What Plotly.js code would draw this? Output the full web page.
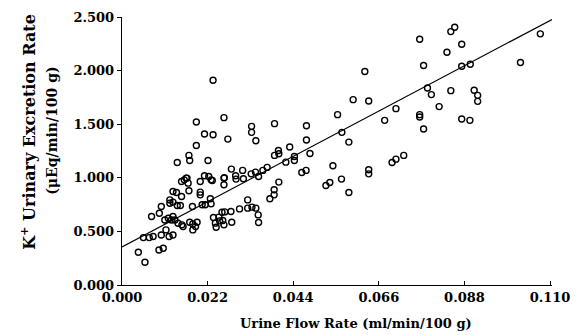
<!DOCTYPE html>
<html>
<head>
<meta charset="utf-8">
<script src="https://cdn.plot.ly/plotly-3.0.1.min.js"></script>
<style>html,body{margin:0;padding:0;background:#fff;}#chart{width:579px;height:335px;}</style>
</head>
<body>
<div id="chart"></div>
<script>
// Urine flow rate (ml/min/100 g)
const flowRate = [
0.0042,0.0059,0.0055,0.0070,0.0080,0.0076,0.0096,0.0101,0.0095,0.0106,
0.0101,0.0113,0.0121,0.0131,0.0110,0.0119,0.0123,0.0123,0.0131,0.0140,
0.0131,0.0142,0.0150,0.0142,0.0153,0.0160,0.0165,0.0170,0.0172,0.0153,
0.0127,0.0136,0.0131,0.0144,0.0154,0.0157,0.0174,0.0182,0.0182,0.0193,
0.0189,0.0181,0.0172,0.0174,0.0191,0.0191,0.0212,0.0234,0.0221,0.0234,
0.0262,0.0272,0.0201,0.0212,0.0223,0.0232,0.0201,0.0201,0.0206,0.0214,
0.0227,0.0229,0.0235,0.0242,0.0251,0.0259,0.0257,0.0264,0.0262,0.0282,
0.0280,0.0262,0.0262,0.0281,0.0292,0.0293,0.0312,0.0310,0.0302,0.0323,
0.0323,0.0334,0.0344,0.0350,0.0351,0.0333,0.0333,0.0344,0.0332,0.0343,
0.0351,0.0362,0.0373,0.0380,0.0391,0.0391,0.0403,0.0392,0.0403,0.0402,
0.0392,0.0421,0.0431,0.0443,0.0443,0.0474,0.0474,0.0483,0.0462,0.0473,
0.0524,0.0534,0.0542,0.0564,0.0583,0.0554,0.0565,0.0583,0.0594,0.0624,
0.0634,0.0634,0.0634,0.0675,0.0694,0.0704,0.0724,0.0704,0.0765,0.0765,
0.0775,0.0775,0.0765,0.0785,0.0795,0.0815,0.0835,0.0845,0.0845,0.0855,
0.0873,0.0873,0.0895,0.0873,0.0894,0.0905,0.0914,0.0914,0.1024,0.1075,
0.0249,0.0263,0.0240,0.0167,0.0229
];
// K+ urinary excretion rate (uEq/min/100 g)
const excretion = [
0.305,0.212,0.442,0.442,0.452,0.639,0.670,0.732,0.327,0.343,
0.467,0.514,0.452,0.467,0.607,0.623,0.763,0.794,0.872,0.863,
0.773,0.741,0.741,1.143,0.966,0.981,0.997,0.950,0.879,0.826,
0.607,0.607,0.639,0.576,0.561,0.545,0.586,0.570,0.514,0.586,
0.545,0.732,1.209,1.162,1.302,1.520,1.408,1.402,1.162,1.910,
1.561,1.361,0.966,1.019,1.012,0.975,0.866,0.841,0.748,0.748,
0.804,0.757,0.629,0.539,0.598,0.601,0.679,0.682,0.561,0.586,
0.685,0.935,0.997,1.081,1.019,0.988,0.991,1.069,0.710,0.794,
0.717,0.726,0.717,0.654,0.583,1.480,1.424,1.346,1.037,1.053,
1.012,1.069,1.097,0.804,0.841,0.888,0.960,1.209,1.224,1.255,
1.505,1.146,1.287,1.199,1.162,1.486,1.352,1.227,1.050,1.069,
0.928,0.956,1.112,0.988,0.863,1.589,1.424,1.333,1.729,1.991,
1.717,1.075,1.037,1.536,1.143,1.174,1.209,1.645,1.589,1.567,
1.455,2.047,2.293,1.838,1.776,1.664,2.171,1.813,2.364,2.405,
2.246,2.040,2.059,1.548,1.536,1.816,1.769,1.713,2.075,2.343,
0.633,1.000,0.577,0.997,0.981
];
// Regression line end points
const fitX = [0.000, 0.1105];
const fitY = [0.355, 2.477];
const xTicks = [0.000, 0.022, 0.044, 0.066, 0.088, 0.110];
const yTicks = [0.000, 0.500, 1.000, 1.500, 2.000, 2.500];

const font = 'DejaVu Serif, serif';
const tf = {family: font, size: 13, color: '#000', weight: 'bold'};
const data = [
  {x: flowRate, y: excretion, type: 'scatter', mode: 'markers',
   marker: {symbol: 'circle-open', size: 6, color: '#000', line: {width: 1.4, color: '#000'}},
   hoverinfo: 'skip'},
  {x: fitX, y: fitY, type: 'scatter', mode: 'lines',
   line: {color: '#000', width: 1.2}, hoverinfo: 'skip'}
];
const layout = {
  width: 579, height: 335,
  margin: {l: 122, r: 27, t: 17, b: 50},
  paper_bgcolor: '#fff', plot_bgcolor: '#fff',
  showlegend: false,
  font: {family: font, size: 13, color: '#000'},
  xaxis: {range: [0, 0.1105], tickvals: xTicks, tickformat: '.3f',
    showgrid: false, zeroline: false, showline: true, linecolor: '#000', linewidth: 1.3,
    ticks: 'inside', ticklen: 4, tickcolor: '#000', tickfont: tf},
  yaxis: {range: [0, 2.5], tickvals: yTicks, tickformat: '.3f',
    showgrid: false, zeroline: false, showline: true, linecolor: '#000', linewidth: 1.3,
    ticks: 'outside', ticklen: 4, tickcolor: '#000', tickfont: tf},
  annotations: [
    {text: 'Urine Flow Rate (ml/min/100 g)', xref: 'paper', yref: 'paper', x: 0.544, y: -0.142,
     xanchor: 'center', yanchor: 'middle', showarrow: false, font: {family: font, size: 13, color: '#000', weight: 'bold'}},
    {text: 'K<sup>+</sup> Urinary Excretion Rate', xref: 'paper', yref: 'paper', x: -0.219, y: 0.571,
     textangle: -90, xanchor: 'center', yanchor: 'middle', showarrow: false, font: {family: font, size: 16, color: '#000', weight: 'bold'}},
    {text: '(μEq/min/100 g)', xref: 'paper', yref: 'paper', x: -0.163, y: 0.575,
     textangle: -90, xanchor: 'center', yanchor: 'middle', showarrow: false, font: {family: font, size: 14, color: '#000', weight: 'bold'}}
  ]
};
Plotly.newPlot('chart', data, layout, {staticPlot: true, displayModeBar: false});
</script>
</body>
</html>
